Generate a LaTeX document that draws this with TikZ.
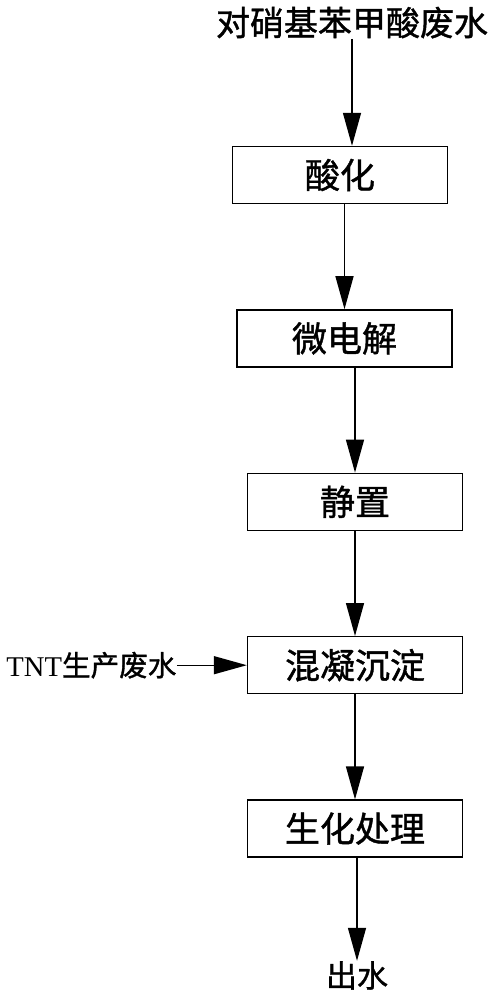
\documentclass[tikz,border=0pt]{standalone}
\usepackage{fontspec}
\setmainfont{Liberation Serif}
\newfontfamily\cjk[FakeBold=1.2]{Noto Sans CJK SC}
\usetikzlibrary{positioning, arrows.meta}

\begin{document}
\begin{tikzpicture}[x=0.5pt, y=-0.5pt, node distance=52.5pt, auto,
    stage/.style={draw, line width=0.7pt, minimum width=107.5pt, minimum height=28.5pt, inner sep=0pt, font=\cjk\fontsize{17.5}{17.5}\selectfont},
    flow/.style={-{Triangle[length=16.5pt, width=9pt]}, line width=0.7pt}]
    \useasboundingbox (0,0) rectangle (494,1000);
    \node[stage] (acid) at (340,175) {酸化};
    \node[inner sep=0pt, font=\cjk\fontsize{17}{17}\selectfont, above=53.5pt of acid, xshift=6pt] (src) {对硝基苯甲酸废水};
    \node[stage, below=of acid, xshift=2.25pt] (micro) {微电解};
    \node[stage, below=of micro, xshift=5.25pt] (still) {静置};
    \node[stage, below=of still] (mix) {混凝沉淀};
    \node[stage, below=of mix] (bio) {生化处理};
    \node[inner sep=0pt, font=\cjk\fontsize{15.5}{15.5}\selectfont, below=51.5pt of bio, xshift=1pt] (out) {出水};
    \node[inner sep=0pt, font=\fontsize{14.3}{14.3}\selectfont, left=35pt of mix] (tnt) {TNT{\cjk 生产废水}};

    \draw[flow] (src.south) -- (src.south |- acid.north);
    \draw[flow] (micro |- acid.south) -- (micro.north);
    \draw[flow] (still |- micro.south) -- (still.north);
    \draw[flow] (mix |- still.south) -- (mix.north);
    \draw[flow] (bio |- mix.south) -- (bio.north);
    \draw[flow] (out |- bio.south) -- (out.north);
    \draw[flow] (tnt.east) -- (tnt -| mix.west);
\end{tikzpicture}
\end{document}
